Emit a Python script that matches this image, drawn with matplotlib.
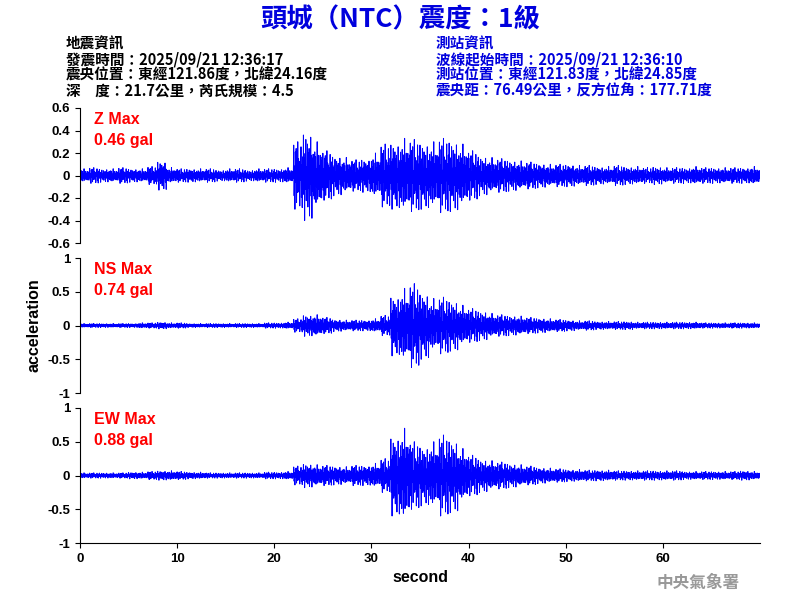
import numpy as np
import matplotlib
matplotlib.use("Agg")
import matplotlib.pyplot as plt

plt.rcParams['font.family'] = ['Liberation Sans', 'Noto Sans CJK TC', 'DejaVu Sans']
CJK = ['Noto Sans CJK TC', 'DejaVu Sans']

# per-second amplitude envelopes (0..69 s)
z_env = [0.06, 0.07, 0.06, 0.06, 0.07, 0.06, 0.06, 0.08, 0.13, 0.07, 0.06, 0.06, 0.06, 0.06, 0.05, 0.06,
         0.06, 0.05, 0.06, 0.06, 0.06, 0.07, 0.30, 0.40, 0.30, 0.22, 0.18, 0.16, 0.14, 0.15, 0.20, 0.28,
         0.30, 0.33, 0.32, 0.30, 0.30, 0.33, 0.32, 0.28, 0.22, 0.18, 0.16, 0.15, 0.14, 0.13, 0.12, 0.11,
         0.10, 0.10, 0.10, 0.09, 0.09, 0.08, 0.08, 0.09, 0.08, 0.08, 0.07, 0.08, 0.07, 0.07, 0.07, 0.08,
         0.07, 0.07, 0.07, 0.07, 0.07, 0.08]
ns_env = [0.03, 0.03, 0.03, 0.03, 0.03, 0.03, 0.04, 0.04, 0.05, 0.04, 0.04, 0.03, 0.03, 0.03, 0.03, 0.03,
          0.03, 0.03, 0.03, 0.04, 0.04, 0.05, 0.10, 0.16, 0.16, 0.12, 0.09, 0.08, 0.08, 0.08, 0.10, 0.15,
          0.45, 0.55, 0.62, 0.50, 0.40, 0.42, 0.38, 0.30, 0.25, 0.22, 0.18, 0.16, 0.15, 0.14, 0.12, 0.11,
          0.10, 0.09, 0.08, 0.07, 0.07, 0.06, 0.06, 0.06, 0.06, 0.05, 0.05, 0.05, 0.05, 0.05, 0.05, 0.05,
          0.04, 0.04, 0.04, 0.04, 0.04, 0.04]
ew_env = [0.04, 0.04, 0.04, 0.04, 0.04, 0.05, 0.05, 0.06, 0.07, 0.07, 0.06, 0.05, 0.05, 0.04, 0.04, 0.04,
          0.04, 0.04, 0.04, 0.05, 0.05, 0.06, 0.14, 0.18, 0.16, 0.15, 0.14, 0.13, 0.15, 0.15, 0.18, 0.25,
          0.60, 0.70, 0.50, 0.45, 0.50, 0.60, 0.55, 0.40, 0.30, 0.25, 0.22, 0.20, 0.18, 0.16, 0.14, 0.12,
          0.11, 0.10, 0.09, 0.09, 0.08, 0.08, 0.08, 0.07, 0.07, 0.07, 0.07, 0.07, 0.07, 0.07, 0.06, 0.06,
          0.06, 0.06, 0.06, 0.06, 0.07, 0.06]
# fixed zigzag shape factors, repeated within each second
zig = [0.9, -0.6, 0.4, -1.0, 0.7, -0.3, 0.8, -0.8, 0.2, -0.5, 1.0, -0.7, 0.5, -0.4, 0.6, -0.9,
       0.3, -0.2, 0.85, -0.65, 0.45, -0.95, 0.55, -0.35]

labels = ["Z Max\n0.46 gal", "NS Max\n0.74 gal", "EW Max\n0.88 gal"]
ylims = [(-0.6, 0.6), (-1, 1), (-1, 1)]
yticks = [[-0.6, -0.4, -0.2, 0, 0.2, 0.4, 0.6], [-1, -0.5, 0, 0.5, 1], [-1, -0.5, 0, 0.5, 1]]
ytl = [["-0.6", "-0.4", "-0.2", "0", "0.2", "0.4", "0.6"], ["-1", "-0.5", "0", "0.5", "1"],
       ["-1", "-0.5", "0", "0.5", "1"]]

fig = plt.figure(figsize=(8, 6), dpi=100)
fig.text(0.5, 0.955, "頭城（NTC）震度：1級", color='#0000dd', fontsize=19, fontweight='bold',
         ha='center', family=CJK)
left = ["地震資訊", "發震時間：2025/09/21 12:36:17", "震央位置：東經121.86度，北緯24.16度",
        "深　度：21.7公里，芮氏規模：4.5"]
right = ["測站資訊", "波線起始時間：2025/09/21 12:36:10", "測站位置：東經121.83度，北緯24.85度",
         "震央距：76.49公里，反方位角：177.71度"]
for j in range(4):
    yy = 0.928 - j * 0.0265
    fig.text(0.082, yy, left[j], fontsize=10.5, fontweight='bold', va='center', family=CJK)
    fig.text(0.545, yy, right[j], fontsize=10.5, fontweight='bold', color='#0000dd', va='center', family=CJK)
fig.text(0.82, 0.02, "中央氣象署", fontsize=12, color='#999999', fontweight='bold', family=CJK)

envs = [z_env, ns_env, ew_env]
bottoms = [0.595, 0.345, 0.095]
for i in range(3):
    ax = fig.add_axes([0.1, bottoms[i], 0.85, 0.225])
    t, y = [], []
    for s, a in enumerate(envs[i]):
        for k, f in enumerate(zig):
            t.append(s + k / len(zig))
            y.append(a * f * (1 if (s + k) % 3 else 0.7))
    ax.plot(t, y, color='blue', lw=0.7)
    ax.set_xlim(0, 70)
    ax.set_ylim(*ylims[i])
    ax.set_yticks(yticks[i])
    ax.set_yticklabels(ytl[i], fontsize=9.5, fontweight='bold')
    ax.spines['top'].set_visible(False)
    ax.spines['right'].set_visible(False)
    ax.text(0.02, 0.97, labels[i], transform=ax.transAxes, color='red', fontsize=11.5,
            fontweight='bold', va='top', linespacing=1.5)
    if i < 2:
        ax.spines['bottom'].set_visible(False)
        ax.set_xticks([])
    else:
        ax.set_xticks([0, 10, 20, 30, 40, 50, 60])
        ax.set_xticklabels(["0", "10", "20", "30", "40", "50", "60"], fontsize=9.5, fontweight='bold')
        ax.set_xlabel("second", fontsize=11.5, fontweight='bold')
    if i == 1:
        ax.set_ylabel("acceleration", fontsize=11.5, fontweight='bold')

fig.savefig("out.png", dpi=100)
